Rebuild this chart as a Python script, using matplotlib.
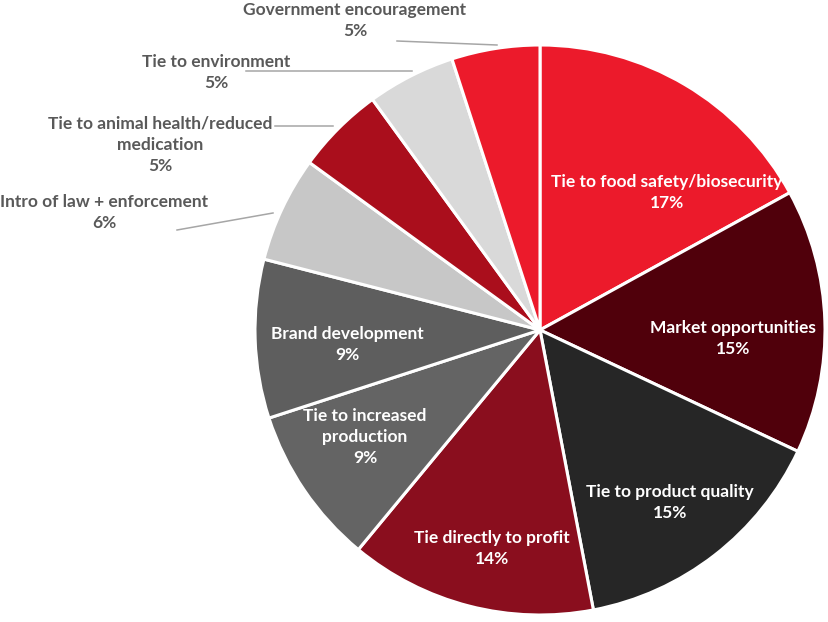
import matplotlib
matplotlib.use("Agg")
import matplotlib.pyplot as plt

categories = ["Tie to food safety/biosecurity", "Market opportunities", "Tie to product quality",
              "Tie directly to profit", "Tie to increased\nproduction", "Brand development",
              "Intro of law + enforcement", "Tie to animal health/reduced\nmedication",
              "Tie to environment", "Government encouragement"]
values = [17, 15, 15, 14, 9, 9, 6, 5, 5, 5]
colors = ["#EC1A2B", "#50000B", "#262626", "#8A0E1E", "#646464", "#5E5E5E",
          "#C7C7C7", "#AA0E1C", "#D9D9D9", "#EC1A2B"]

W, H = 829, 622
CX, CY, R = 540, 330, 285

fig = plt.figure(figsize=(W/100, H/100), dpi=100)
ax = fig.add_axes([(CX-R)/W, (H-CY-R)/H, 2*R/W, 2*R/H])
ax.pie(values, colors=colors, startangle=90, counterclock=False,
       wedgeprops=dict(edgecolor="white", linewidth=2.2))
ax.set_xlim(-1, 1)
ax.set_ylim(-1, 1)
ax.set_aspect("equal")
ax.axis("off")

def P(px, py):
    return ((px-CX)/R, (CY-py)/R)

font = dict(family=["Lato", "DejaVu Sans"], fontweight="bold", fontsize=12.5,
            ha="center", va="center", linespacing=1.42)

# inside labels (pixel centre of the text block)
inside_pos = {0: (667, 192.5), 1: (733, 338.5), 2: (670, 502.5), 3: (492, 548.5),
              4: (365, 437), 5: (347, 344.5)}
# outside labels
outside_pos = {6: (104, 212.5), 7: (160, 145), 8: (216, 72.5), 9: (355, 20.5)}
leaders = {6: [(177, 230), (273, 213)], 7: [(275, 126), (333, 126)],
           8: [(246, 71), (412, 71)], 9: [(397, 41), (497, 45)]}

for i, (cat, v) in enumerate(zip(categories, values)):
    label = f"{cat}\n{v}%"
    if i in inside_pos:
        x, y = P(*inside_pos[i])
        ax.text(x, y, label, color="white", clip_on=False, **font)
    else:
        x, y = P(*outside_pos[i])
        ax.text(x, y, label, color="#595959", clip_on=False, **font)
        (x0, y0), (x1, y1) = [P(*p) for p in leaders[i]]
        ax.plot([x0, x1], [y0, y1], color="#A6A6A6", lw=1.1, clip_on=False)

fig.savefig("out.png", dpi=100)
